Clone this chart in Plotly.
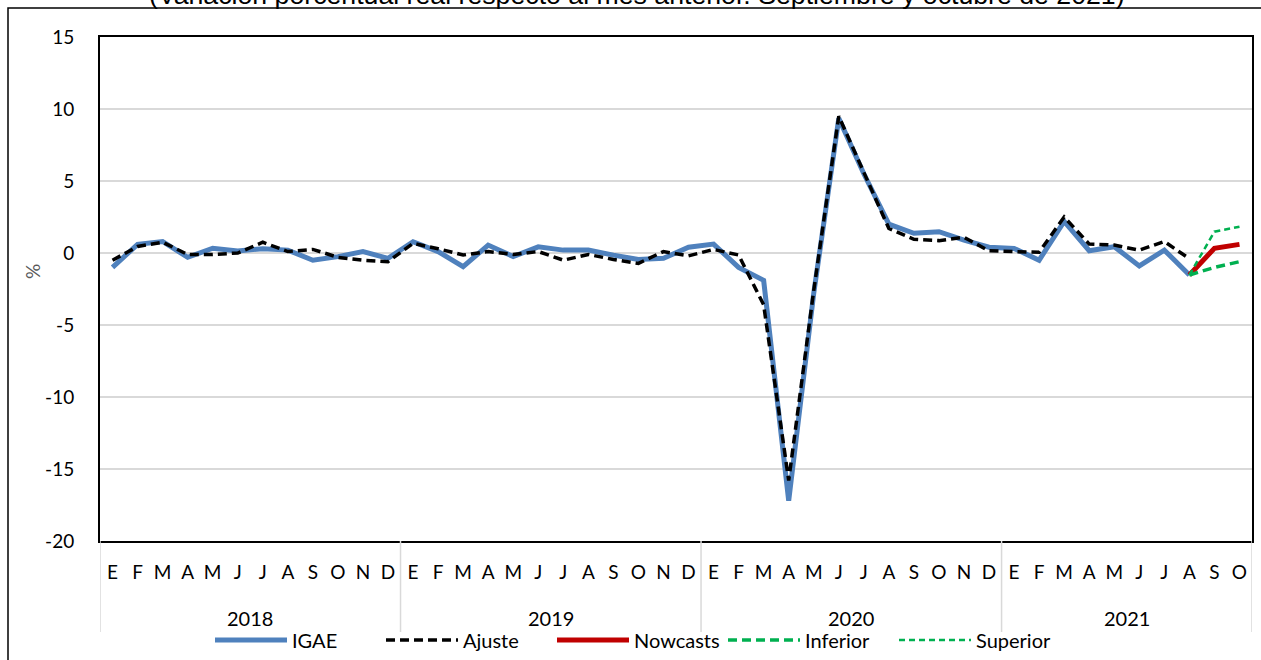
import plotly.graph_objects as go

years = ["2018", "2019", "2020", "2021"]
months = ["E", "F", "M", "A", "M", "J", "J", "A", "S", "O", "N", "D"]
months_2021 = ["E", "F", "M", "A", "M", "J", "J", "A", "S", "O"]
y_ticks = [-20, -15, -10, -5, 0, 5, 10, 15]
y_ticklabels = ["-20", "-15", "-10", "-5", "0", "5", "10", "15"]

igae = [
    -1.0, 0.6, 0.8, -0.3, 0.33, 0.14, 0.3, 0.2, -0.5, -0.25, 0.1, -0.37,
    0.78, 0.1, -0.95, 0.55, -0.25, 0.43, 0.2, 0.2, -0.15, -0.45, -0.37, 0.4,
    0.62, -1.0, -1.9, -17.2, -2.8, 9.35, 5.5, 2.0, 1.37, 1.48, 0.9, 0.4,
    0.32, -0.5, 2.2, 0.16, 0.44, -0.9, 0.2, -1.53, None, None,
]
ajuste = [
    -0.5, 0.45, 0.75, -0.1, -0.1, 0.0, 0.75, 0.1, 0.25, -0.3, -0.5, -0.6,
    0.67, 0.3, -0.14, 0.1, -0.1, 0.1, -0.5, -0.1, -0.45, -0.72, 0.1, -0.2,
    0.25, -0.14, -3.6, -15.8, -2.6, 9.5, 5.6, 1.7, 0.95, 0.86, 1.09, 0.15,
    0.1, 0.05, 2.5, 0.62, 0.55, 0.2, 0.8, -0.4, None, None,
]
nowcasts = [None] * 43 + [-1.53, 0.33, 0.6]
inferior = [None] * 43 + [-1.53, -1.0, -0.6]
superior = [None] * 43 + [-1.53, 1.48, 1.83]

title_text = "(Variación porcentual real respecto al mes anterior. Septiembre y octubre de 2021)"

# category ids and labels
cat_ids, cat_labels, year_of = [], [], []
for y in years:
    ms = months_2021 if y == "2021" else months
    for i, m in enumerate(ms):
        cat_ids.append(f"{y}-{i+1:02d}")
        cat_labels.append(m)
        year_of.append(y)

W, H = 1261, 660
L, R, T, B = 100, 9, 37, 119
PW, PH = W - L - R, H - T - B

def px_x(p):
    return (p - L) / PW

def px_y(p):
    return 1 - (p - T) / PH

FONT = "Lato, Carlito, Calibri, sans-serif"

fig = go.Figure()
fig.add_trace(go.Scatter(x=cat_ids, y=igae, name="IGAE", mode="lines",
                         line=dict(color="#4F81BD", width=5)))
fig.add_trace(go.Scatter(x=cat_ids, y=ajuste, name="Ajuste", mode="lines",
                         line=dict(color="#000000", width=3.5, dash="9px,5px")))
fig.add_trace(go.Scatter(x=cat_ids, y=nowcasts, name="Nowcasts", mode="lines",
                         line=dict(color="#C00000", width=5)))
fig.add_trace(go.Scatter(x=cat_ids, y=inferior, name="Inferior", mode="lines",
                         line=dict(color="#00B050", width=3.5, dash="9px,5px")))
fig.add_trace(go.Scatter(x=cat_ids, y=superior, name="Superior", mode="lines",
                         line=dict(color="#00B050", width=2.5, dash="6px,4px")))

n = len(cat_ids)
shapes = []
# year dividers
bounds = [-0.5]
count = 0
for y in years:
    count += year_of.count(y)
    bounds.append(count - 0.5)
for b in bounds:
    shapes.append(dict(type="line", xref="x", yref="paper", x0=b, x1=b,
                       y0=0, y1=px_y(632), line=dict(color="#D9D9D9", width=1.5)))
# outer chart border
shapes.append(dict(type="rect", xref="paper", yref="paper",
                   x0=px_x(8), x1=px_x(1300), y0=px_y(8), y1=px_y(700),
                   line=dict(color="#000000", width=1.5), layer="below"))

annotations = []
start = 0
for y in years:
    c = year_of.count(y)
    annotations.append(dict(x=start + (c - 1) / 2, xref="x", y=px_y(618), yref="paper",
                            text=y, showarrow=False, yanchor="middle",
                            font=dict(family=FONT, size=20, color="#000000")))
    start += c
annotations.append(dict(x=px_x(32), y=px_y(272), xref="paper", yref="paper", text="%",
                        textangle=-90, showarrow=False, xanchor="center", yanchor="middle",
                        font=dict(family=FONT, size=19, color="#595959")))
annotations.append(dict(x=px_x(637), y=px_y(-5), xref="paper", yref="paper",
                        text=title_text, showarrow=False, yanchor="middle",
                        font=dict(family="Liberation Sans, Arial, sans-serif", size=26.7,
                                  color="#000000")))

fig.update_layout(
    width=W, height=H,
    margin=dict(l=L, r=R, t=T, b=B, pad=0, autoexpand=False),
    paper_bgcolor="white", plot_bgcolor="white",
    showlegend=True,
    legend=dict(orientation="h", x=px_x(210), y=px_y(640), xanchor="left", yanchor="middle",
                font=dict(family=FONT, size=20, color="#000000"),
                bgcolor="rgba(0,0,0,0)", itemwidth=72, tracegroupgap=0,
                entrywidth=84, entrywidthmode="pixels"),
    shapes=shapes,
    annotations=annotations,
    font=dict(family=FONT, color="#000000"),
)
fig.update_xaxes(type="category", categoryorder="array", categoryarray=cat_ids,
                 tickmode="array", tickvals=cat_ids, ticktext=cat_labels,
                 range=[-0.5, n - 0.5], showgrid=False, zeroline=False, automargin=False,
                 showline=True, linecolor="#000000", linewidth=2, mirror=True,
                 ticks="outside", ticklen=13, tickcolor="rgba(0,0,0,0)", tickangle=0,
                 tickfont=dict(family=FONT, size=19, color="#000000"))
fig.update_yaxes(range=[-20, 15], tickmode="array", tickvals=y_ticks, ticktext=y_ticklabels,
                 showgrid=True, gridcolor="#D9D9D9",
                 gridwidth=1.5, zeroline=False, automargin=False,
                 showline=True, linecolor="#000000", linewidth=2, mirror=True,
                 ticks="outside", ticklen=20, tickcolor="rgba(0,0,0,0)",
                 tickfont=dict(family=FONT, size=19, color="#000000"))

fig.write_html("out.html", config={"displayModeBar": False},
               post_script="document.body.style.margin='0px';document.body.style.overflow='hidden';")
